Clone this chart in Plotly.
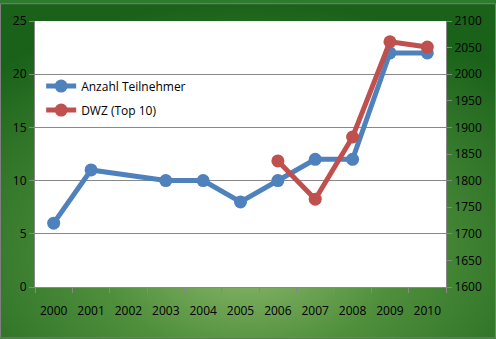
import base64
import plotly.graph_objects as go

years = ["2000", "2001", "2002", "2003", "2004", "2005", "2006", "2007", "2008", "2009", "2010"]
teilnehmer = [6, 11, None, 10, 10, 8, 10, 12, 12, 22, 22]
dwz = [None, None, None, None, None, None, 1837, 1765, 1882, 2061, 2051]

W, H = 496, 339
ML, MR, MT, MB = 35, 50, 18, 52
PW, PH = W - ML - MR, H - MT - MB

svg = f'''<svg xmlns="http://www.w3.org/2000/svg" width="{W}" height="{H}" viewBox="0 0 {W} {H}" preserveAspectRatio="none">
<defs><radialGradient id="g" cx="50%" cy="75%" r="75%">
<stop offset="0%" stop-color="#8fbb6e"/>
<stop offset="40%" stop-color="#4f8f3c"/>
<stop offset="100%" stop-color="#1a621a"/>
</radialGradient></defs>
<rect x="0" y="0" width="{W}" height="{H}" fill="url(#g)"/>
</svg>'''
src = "data:image/svg+xml;base64," + base64.b64encode(svg.encode()).decode()

fig = go.Figure()
fig.add_trace(go.Scatter(x=years, y=teilnehmer, name="Anzahl Teilnehmer", mode="lines+markers",
                         connectgaps=True, legendgroup="a", line=dict(color="#4f81bd", width=5),
                         marker=dict(size=13, color="#4f81bd")))
fig.add_trace(go.Scatter(x=years, y=dwz, name="DWZ (Top 10)", mode="lines+markers", yaxis="y2",
                         legendgroup="b", line=dict(color="#c0504d", width=5),
                         marker=dict(size=13, color="#c0504d")))

fig.update_layout(
    width=W, height=H,
    margin=dict(l=ML, r=MR, t=MT, b=MB),
    paper_bgcolor="#2f7a2f",
    plot_bgcolor="white",
    font=dict(family="Open Sans", size=12, color="#000000"),
    showlegend=True,
    legend=dict(x=0.015, y=0.81, xanchor="left", yanchor="top", bgcolor="rgba(0,0,0,0)",
                font=dict(size=12), traceorder="grouped", tracegroupgap=5, itemwidth=30),
    xaxis=dict(type="category", tickson="boundaries", ticks="outside", ticklen=5,
               tickcolor="#888888", showline=True, linecolor="#888888", linewidth=1,
               showgrid=False, ticklabelstandoff=13, range=[-0.5, 10.5]),
    yaxis=dict(range=[0, 25], dtick=5, showgrid=True, gridcolor="#888888", gridwidth=1,
               showline=True, linecolor="#888888", ticks="outside", ticklen=5,
               tickcolor="#888888", zeroline=False),
    yaxis2=dict(range=[1600, 2100], dtick=50, overlaying="y", side="right", showgrid=False,
                showline=True, linecolor="#888888", ticks="outside", ticklen=5,
                tickcolor="#888888", zeroline=False),
    images=[dict(source=src, xref="paper", yref="paper", x=-ML / PW, y=1 + MT / PH,
                 sizex=W / PW, sizey=H / PH, sizing="stretch", xanchor="left", yanchor="top",
                 layer="below")],
    shapes=[
        dict(type="rect", xref="paper", yref="paper", x0=0, x1=1, y0=0, y1=1,
             fillcolor="white", line=dict(width=0), layer="below"),
        dict(type="rect", xref="paper", yref="paper",
             x0=-ML / PW + 0.5 / PW, x1=1 + MR / PW - 0.5 / PW,
             y0=-MB / PH + 0.5 / PH, y1=1 + MT / PH - 0.5 / PH,
             line=dict(color="#7f7f7f", width=1), layer="above"),
    ],
)

fig.write_html("out.html")
